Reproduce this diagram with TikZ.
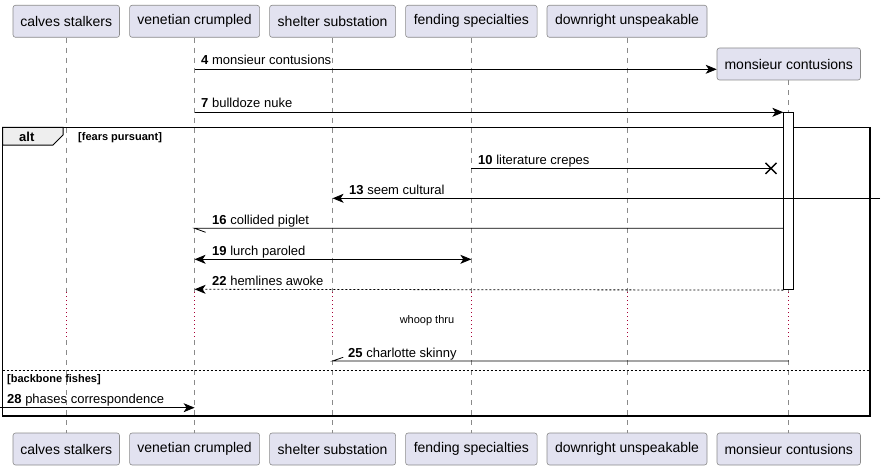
\documentclass[tikz,border=0pt]{standalone}
\usepackage{fontspec}
\setmainfont{Liberation Sans}
\usetikzlibrary{arrows.meta,calc}
\definecolor{partfill}{HTML}{E2E2F0}
\definecolor{partdraw}{HTML}{8A8A8A}
\definecolor{lifecol}{HTML}{8A8A8A}
\definecolor{delaycol}{HTML}{A80036}
\definecolor{tabfill}{HTML}{EEEEEE}
\tikzset{
  part/.style={draw=partdraw, fill=partfill, rounded corners=2.5pt, line width=0.6pt,
    minimum height=32pt, inner xsep=6pt, font=\fontsize{14}{16}\selectfont, anchor=north west},
  life/.style={draw=lifecol, line width=0.6pt, dash pattern=on 5pt off 5pt},
  delayline/.style={draw=delaycol, line width=0.8pt, dash pattern=on 1pt off 3pt},
  msg/.style={draw=black, line width=0.8pt},
  head/.style={-{Stealth[length=11pt,width=9pt,inset=3pt]}},
  dhead/.style={{Stealth[length=11pt,width=9pt,inset=3pt]}-{Stealth[length=11pt,width=9pt,inset=3pt]}},
  mlabel/.style={anchor=base west, inner sep=0pt, font=\fontsize{13}{15}\selectfont},
  frame/.style={draw=black, line width=1.5pt},
  guard/.style={anchor=base west, inner sep=0pt, font=\fontsize{11}{13}\selectfont\bfseries},
}
\begin{document}
\begin{tikzpicture}[x=1pt,y=-1pt]
\useasboundingbox (0,0) rectangle (885,468);
% participants top
\node[part, minimum width=106.5pt] (cs) at (12.7,5) {calves stalkers};
\node[part, minimum width=130pt] (vc) at (129.3,5) {venetian crumpled};
\node[part, minimum width=126pt] (ss) at (269.3,5) {shelter substation};
\node[part, minimum width=131.5pt] (fs) at (405.3,5) {fending specialties};
\node[part, minimum width=160pt] (du) at (546.7,5) {downright unspeakable};
\node[part, minimum width=143.5pt] (mc) at (716.7,47.7) {monsieur contusions};
% participants bottom
\node[part, minimum width=106.5pt] (csb) at (12.7,432.7) {calves stalkers};
\node[part, minimum width=130pt] (vcb) at (129.3,432.7) {venetian crumpled};
\node[part, minimum width=126pt] (ssb) at (269.3,432.7) {shelter substation};
\node[part, minimum width=131.5pt] (fsb) at (405.3,432.7) {fending specialties};
\node[part, minimum width=160pt] (dub) at (546.7,432.7) {downright unspeakable};
\node[part, minimum width=143.5pt] (mcb) at (716.7,432.7) {monsieur contusions};
% lifelines with delay
\foreach \t/\b in {cs/csb,vc/vcb,ss/ssb,fs/fsb,du/dub,mc/mcb}{
  \path[life] (\t.south) -- (\t.south |- 0,292);
  \path[delayline] (\t.south |- 0,292) -- (\t.south |- 0,340);
  \path[life] (\t.south |- 0,340) -- (\b.north);
}
% alt frame
\draw[frame] (2.7,127.3) rectangle (870,416);
\draw[line width=1pt, fill=tabfill] (2.7,127.3) -- (63,127.3) -- (63,135) -- (53,145) -- (2.7,145) -- cycle;
\node[anchor=base west, inner sep=0pt, font=\fontsize{13}{15}\selectfont\bfseries] (altl) at (19,141) {alt};
\node[guard] (g1) at (78,140) {[fears pursuant]};
\draw[line width=0.8pt, dash pattern=on 2pt off 2pt] (2.7,370) -- (870,370);
\node[guard] (g2) at (7,382) {[backbone fishes]};
% activation
\node[draw=black, fill=white, line width=0.8pt, minimum width=10pt, minimum height=177pt, inner sep=0pt, anchor=north] (act) at (mc.south |- 0,112.3) {};
% coordinates
\coordinate (vc4) at (vc.south |- 0,69.3);
\coordinate (vc7) at (vc.south |- 0,112.3);
\coordinate (a7) at (act.north west);
\coordinate (fs10) at (fs.south |- 0,168.3);
\coordinate (x10) at (771,168.3);
\coordinate (r13) at (880,198.3);
\coordinate (ss13) at (ss.south |- 0,198.3);
\coordinate (a16) at (act.west |- 0,228.3);
\coordinate (vc16) at (vc.south |- 0,228.3);
\coordinate (vc19) at (vc.south |- 0,259.3);
\coordinate (fs19) at (fs.south |- 0,259.3);
\coordinate (a22) at (act.south west);
\coordinate (vc22) at (vc.south |- 0,289.3);
\coordinate (mc25) at (mc.south |- 0,361);
\coordinate (ss25) at (ss.south |- 0,361);
\coordinate (l28) at (0,407.7);
\coordinate (vc28) at (vc.south |- 0,407.7);
% messages
\draw[msg, head] (vc4) -- (mc.west |- vc4);
\node[mlabel] at (201,65) {\textbf{4} monsieur contusions};
\draw[msg, head] (vc7) -- (a7);
\node[mlabel] at (201,108) {\textbf{7} bulldoze nuke};
\draw[msg] (fs10) -- (x10);
\draw[line width=1.4pt] ($(x10)+(-5.5,-5.5)$) -- ($(x10)+(5.5,5.5)$) ($(x10)+(-5.5,5.5)$) -- ($(x10)+(5.5,-5.5)$);
\node[mlabel] at (478,164) {\textbf{10} literature crepes};
\draw[msg, head] (r13) -- (ss13);
\node[mlabel] at (349,194) {\textbf{13} seem cultural};
\draw[msg] (a16) -- (vc16) -- ++(11,4);
\node[mlabel] at (212,224) {\textbf{16} collided piglet};
\draw[msg, dhead] (vc19) -- (fs19);
\node[mlabel] at (212,255) {\textbf{19} lurch paroled};
\draw[msg, head, dash pattern=on 2pt off 2pt] (a22) -- (vc22);
\node[mlabel] at (212,285) {\textbf{22} hemlines awoke};
\node[anchor=base, inner sep=0pt, font=\fontsize{11}{13}\selectfont] (delay) at (427,323) {whoop thru};
\draw[msg] (mc25) -- (ss25) -- ++(10.6,-3.7);
\node[mlabel] at (348,357) {\textbf{25} charlotte skinny};
\draw[msg, head] (l28) -- (vc28);
\node[mlabel] at (7,403) {\textbf{28} phases correspondence};
\end{tikzpicture}
\end{document}
